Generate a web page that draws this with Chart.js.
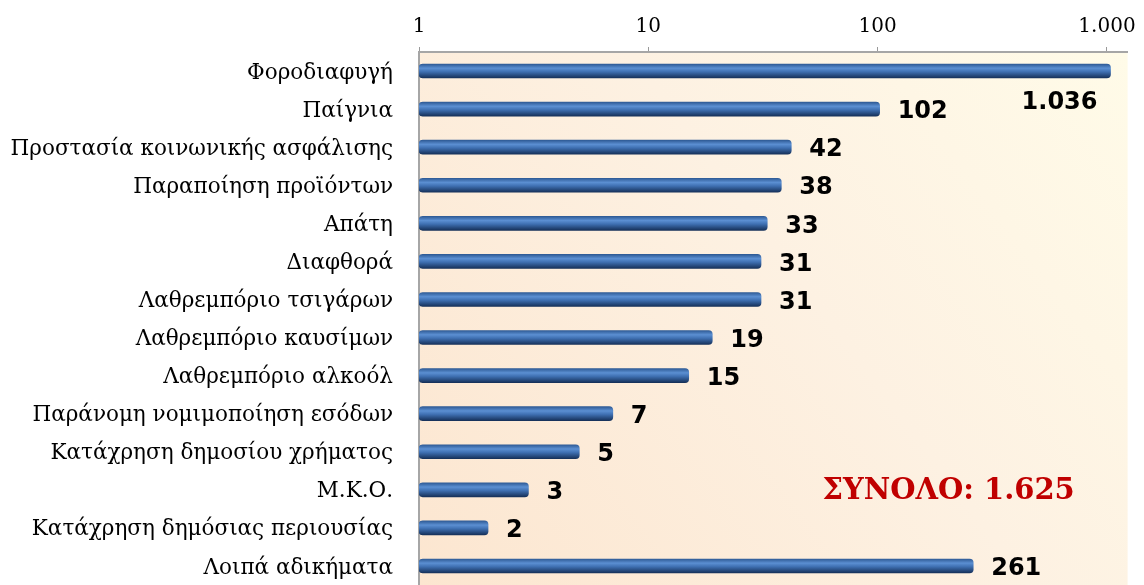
<!DOCTYPE html>
<html>
<head>
<meta charset="utf-8">
<script src="https://cdn.jsdelivr.net/npm/chart.js@4"></script>
<style>
  html, body { margin: 0; padding: 0; background: #fff; }
  #wrap { width: 1144px; height: 585px; }
</style>
</head>
<body>
<div id="wrap"><canvas id="offences"></canvas></div>
<script>
const categories = [
  'Φοροδιαφυγή', 'Παίγνια', 'Προστασία κοινωνικής ασφάλισης', 'Παραποίηση προϊόντων',
  'Απάτη', 'Διαφθορά', 'Λαθρεμπόριο τσιγάρων', 'Λαθρεμπόριο καυσίμων',
  'Λαθρεμπόριο αλκοόλ', 'Παράνομη νομιμοποίηση εσόδων', 'Κατάχρηση δημοσίου χρήματος',
  'Μ.Κ.Ο.', 'Κατάχρηση δημόσιας περιουσίας', 'Λοιπά αδικήματα'
];
const cases = [1036, 102, 42, 38, 33, 31, 31, 19, 15, 7, 5, 3, 2, 261];
const tickValues = [1, 10, 100, 1000];
const tickLabels = ['1', '10', '100', '1.000'];
const totalLabel = 'ΣΥΝΟΛΟ: 1.625';

// greek style thousands separator
const fmt = v => String(v).replace(/\B(?=(\d{3})+(?!\d))/g, '.');

const plotBg = {
  id: 'plotBg',
  beforeDraw(chart) {
    const { ctx, chartArea: a } = chart;
    const g = ctx.createLinearGradient(a.left, a.bottom, a.right, a.top);
    g.addColorStop(0, '#fce6d0');
    g.addColorStop(0.55, '#fdf1e2');
    g.addColorStop(1, '#fffbe8');
    ctx.save();
    ctx.fillStyle = g;
    ctx.fillRect(a.left, a.top, a.right - a.left, a.bottom - a.top);
    ctx.restore();
  }
};

const valueLabels = {
  id: 'valueLabels',
  afterDatasetsDraw(chart) {
    const { ctx, chartArea } = chart;
    const meta = chart.getDatasetMeta(0);
    ctx.save();
    ctx.font = 'bold 24px "DejaVu Sans"';
    ctx.fillStyle = '#000';
    ctx.textBaseline = 'middle';
    meta.data.forEach((bar, i) => {
      const txt = fmt(cases[i]);
      const w = ctx.measureText(txt).width;
      if (bar.x + 16 + w > chartArea.right) {
        ctx.textAlign = 'right';
        ctx.fillText(txt, bar.x - 13, bar.y + 32);
      } else {
        ctx.textAlign = 'left';
        ctx.fillText(txt, bar.x + 18, bar.y + 3);
      }
    });
    const yTot = chart.scales.y.getPixelForValue(11);
    ctx.font = 'bold 29px "DejaVu Serif"';
    ctx.fillStyle = '#c00000';
    ctx.textAlign = 'center';
    ctx.fillText(totalLabel, chartArea.right - 179, yTot + 2);
    ctx.restore();
  }
};

function barFill(context) {
  const chart = context.chart;
  const y = chart.scales.y ? chart.scales.y.getPixelForValue(context.dataIndex) : NaN;
  if (!Number.isFinite(y)) return '#3f70b2';
  const g = chart.ctx.createLinearGradient(0, y - 7, 0, y + 7);
  g.addColorStop(0, '#2f5b96');
  g.addColorStop(0.3, '#5b8fd2');
  g.addColorStop(0.55, '#3f70b2');
  g.addColorStop(1, '#16315a');
  return g;
}

new Chart(document.getElementById('offences'), {
  type: 'bar',
  data: {
    labels: categories,
    datasets: [{
      data: cases,
      backgroundColor: barFill,
      borderWidth: 0,
      borderRadius: 4,
      borderSkipped: false,
      barThickness: 14
    }]
  },
  plugins: [plotBg, valueLabels],
  options: {
    indexAxis: 'y',
    responsive: true,
    maintainAspectRatio: false,
    animation: false,
    layout: { padding: { left: 0, right: 13, top: 0, bottom: 0 } },
    plugins: {
      legend: { display: false },
      tooltip: { enabled: false }
    },
    scales: {
      x: {
        type: 'logarithmic',
        position: 'top',
        min: 1,
        max: 1230,
        afterBuildTicks: scale => {
          scale.ticks = tickValues.map(v => ({ value: v }));
        },
        afterFit: scale => { scale.height = 52; },
        ticks: {
          callback: v => tickLabels[tickValues.indexOf(v)],
          font: { family: 'DejaVu Serif', size: 20 },
          color: '#000',
          padding: 8,
          maxRotation: 0,
          autoSkip: false
        },
        grid: { drawOnChartArea: false, tickLength: 5, color: '#999' },
        border: { color: '#a6a6a6', width: 2 }
      },
      y: {
        afterFit: scale => {
          scale.width = 419;
          scale.paddingTop = 0;
          scale.paddingBottom = 0;
        },
        ticks: {
          font: { family: 'DejaVu Serif', size: 21.5 },
          color: '#000',
          padding: 26,
          labelOffset: 2,
          autoSkip: false
        },
        grid: { display: false, drawTicks: false },
        border: { color: '#a6a6a6', width: 2 }
      }
    }
  }
});
</script>
</body>
</html>
